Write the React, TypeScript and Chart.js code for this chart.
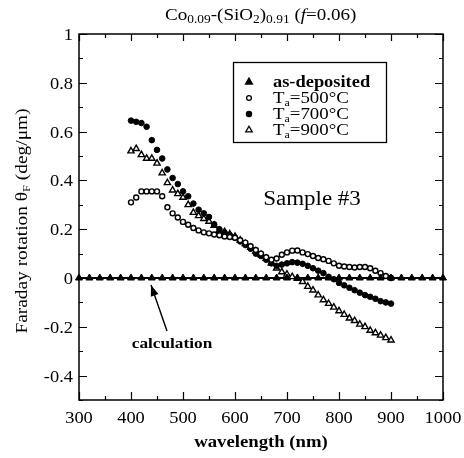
import React, { useEffect, useRef } from "react";
import { Chart, registerables } from "chart.js";
Chart.register(...registerables);

// ---- data ----
const asDepWavelength = [300, 320, 340, 360, 380, 400, 420, 440, 460, 480, 500, 520, 540, 560, 580, 600, 620, 640, 660, 680, 700, 720, 740, 760, 780, 800, 820, 840, 860, 880, 900, 920, 940, 960, 980, 1000];
const asDeposited = [0, 0, 0, 0, 0, 0, 0, 0, 0, 0, 0, 0, 0, 0, 0, 0, 0, 0, 0, 0, 0, 0, 0, 0, 0, 0, 0, 0, 0, 0, 0, 0, 0, 0, 0, 0];

const wavelength = [400, 410, 420, 430, 440, 450, 460, 470, 480, 490, 500, 510, 520, 530, 540, 550, 560, 570, 580, 590, 600, 610, 620, 630, 640, 650, 660, 670, 680, 690, 700, 710, 720, 730, 740, 750, 760, 770, 780, 790, 800, 810, 820, 830, 840, 850, 860, 870, 880, 890, 900];
const ta500 = [0.31, 0.33, 0.355, 0.355, 0.355, 0.355, 0.335, 0.29, 0.265, 0.248, 0.23, 0.218, 0.205, 0.195, 0.187, 0.183, 0.178, 0.175, 0.17, 0.168, 0.165, 0.155, 0.145, 0.13, 0.115, 0.1, 0.085, 0.075, 0.08, 0.095, 0.105, 0.112, 0.113, 0.105, 0.098, 0.09, 0.082, 0.077, 0.07, 0.06, 0.05, 0.047, 0.045, 0.043, 0.045, 0.045, 0.04, 0.03, 0.02, 0.008, 0.0];
const ta700 = [0.645, 0.64, 0.635, 0.62, 0.565, 0.525, 0.49, 0.445, 0.41, 0.385, 0.355, 0.335, 0.305, 0.28, 0.265, 0.25, 0.22, 0.2, 0.185, 0.175, 0.165, 0.15, 0.135, 0.12, 0.1, 0.09, 0.075, 0.06, 0.05, 0.055, 0.06, 0.065, 0.063, 0.058, 0.05, 0.04, 0.03, 0.02, 0.005, -0.005, -0.02, -0.03, -0.04, -0.05, -0.06, -0.07, -0.077, -0.085, -0.095, -0.1, -0.105];
const ta900 = [0.52, 0.53, 0.505, 0.49, 0.49, 0.47, 0.43, 0.39, 0.36, 0.345, 0.33, 0.3, 0.268, 0.255, 0.243, 0.232, 0.215, 0.195, 0.19, 0.18, 0.17, 0.155, 0.14, 0.125, 0.11, 0.095, 0.08, 0.06, 0.04, 0.025, 0.015, 0.005, -0.002, -0.015, -0.035, -0.05, -0.07, -0.09, -0.105, -0.12, -0.135, -0.15, -0.165, -0.175, -0.19, -0.2, -0.215, -0.225, -0.235, -0.245, -0.255];
const calcWavelength = [300, 1000];
const calculation = [0, 0];

const xTicks = [300, 400, 500, 600, 700, 800, 900, 1000];
const xMinor = [350, 450, 550, 650, 750, 850, 950];
const yTicks = [-0.4, -0.2, 0, 0.2, 0.4, 0.6, 0.8, 1];
const yTickLabels = ["-0.4", "-0.2", "0", "0.2", "0.4", "0.6", "0.8", "1"];
const yMinor = [-0.5, -0.3, -0.1, 0.1, 0.3, 0.5, 0.7, 0.9];

const legendLabels = ["as-deposited", "500°C", "700°C", "900°C"];

const SERIF = '"Liberation Serif", "Times New Roman", serif';
const SX = 1.15;

type Run = { t: string; size: number; italic?: boolean; bold?: boolean; dy?: number };

function runsWidth(ctx: CanvasRenderingContext2D, runs: Run[], sx: number) {
  let w = 0;
  for (const r of runs) {
    ctx.font = `${r.italic ? "italic " : ""}${r.bold ? "bold " : ""}${r.size}px ${SERIF}`;
    w += ctx.measureText(r.t).width * sx;
  }
  return w;
}

function drawRuns(ctx: CanvasRenderingContext2D, runs: Run[], x: number, y: number, align: "left" | "center" | "right", sx = SX) {
  const w = runsWidth(ctx, runs, sx);
  let cx = align === "center" ? x - w / 2 : align === "right" ? x - w : x;
  ctx.save();
  ctx.fillStyle = "#000";
  ctx.textAlign = "left";
  ctx.textBaseline = "alphabetic";
  for (const r of runs) {
    ctx.font = `${r.italic ? "italic " : ""}${r.bold ? "bold " : ""}${r.size}px ${SERIF}`;
    const rw = ctx.measureText(r.t).width * sx;
    ctx.save();
    ctx.translate(cx, y + (r.dy || 0));
    ctx.scale(sx, 1);
    ctx.fillText(r.t, 0, 0);
    ctx.restore();
    cx += rw;
  }
  ctx.restore();
  return w;
}

function triangle(ctx: CanvasRenderingContext2D, x: number, y: number, r: number, fill: boolean) {
  ctx.beginPath();
  for (let i = 0; i < 3; i++) {
    const a = -Math.PI / 2 + (i * 2 * Math.PI) / 3;
    const px = x + Math.cos(a) * r;
    const py = y + Math.sin(a) * r;
    if (i === 0) ctx.moveTo(px, py);
    else ctx.lineTo(px, py);
  }
  ctx.closePath();
  ctx.fillStyle = fill ? "#000" : "#fff";
  ctx.fill();
  ctx.lineWidth = 1.3;
  ctx.strokeStyle = "#000";
  ctx.stroke();
}

function circle(ctx: CanvasRenderingContext2D, x: number, y: number, r: number, fill: boolean) {
  ctx.beginPath();
  ctx.arc(x, y, r, 0, Math.PI * 2);
  ctx.fillStyle = fill ? "#000" : "#fff";
  ctx.fill();
  ctx.lineWidth = 1.3;
  ctx.strokeStyle = "#000";
  ctx.stroke();
}

const framePlugin = {
  id: "frame",
  afterDraw(chart: any) {
    const ctx: CanvasRenderingContext2D = chart.ctx;
    const { left, right, top, bottom } = chart.chartArea;
    const xs = chart.scales.x;
    const ys = chart.scales.y;
    ctx.save();
    ctx.strokeStyle = "#000";
    ctx.lineWidth = 1.5;
    ctx.strokeRect(left, top, right - left, bottom - top);

    ctx.lineWidth = 1.2;
    ctx.beginPath();
    for (const v of xTicks) {
      const px = Math.round(xs.getPixelForValue(v)) + 0.5;
      ctx.moveTo(px, bottom); ctx.lineTo(px, bottom - 8);
      ctx.moveTo(px, top); ctx.lineTo(px, top + 7);
    }
    for (const v of xMinor) {
      const px = Math.round(xs.getPixelForValue(v)) + 0.5;
      ctx.moveTo(px, bottom); ctx.lineTo(px, bottom - 4);
      ctx.moveTo(px, top); ctx.lineTo(px, top + 4);
    }
    for (const v of yTicks) {
      const py = Math.round(ys.getPixelForValue(v)) + 0.5;
      ctx.moveTo(left, py); ctx.lineTo(left + 8, py);
      ctx.moveTo(right, py); ctx.lineTo(right - 8, py);
    }
    for (const v of yMinor) {
      const py = Math.round(ys.getPixelForValue(v)) + 0.5;
      ctx.moveTo(left, py); ctx.lineTo(left + 4, py);
      ctx.moveTo(right, py); ctx.lineTo(right - 4, py);
    }
    ctx.stroke();

    // tick labels
    for (const v of xTicks) {
      drawRuns(ctx, [{ t: String(v), size: 16 }], xs.getPixelForValue(v), bottom + 23, "center");
    }
    yTicks.forEach((v, i) => {
      drawRuns(ctx, [{ t: yTickLabels[i], size: 16 }], left - 6, ys.getPixelForValue(v) + 6, "right");
    });

    // x title
    drawRuns(ctx, [{ t: "wavelength (nm)", size: 16, bold: true }], (left + right) / 2, bottom + 47, "center", 1.17);

    // y title (rotated)
    ctx.save();
    ctx.translate(27, (top + bottom) / 2 + 4);
    ctx.rotate(-Math.PI / 2);
    drawRuns(ctx, [
      { t: "Faraday rotation θ", size: 17 },
      { t: "F", size: 11, dy: 3 },
      { t: " (deg/μm)", size: 17 },
    ], 0, 0, "center", 1.14);
    ctx.restore();

    // title
    drawRuns(ctx, [
      { t: "Co", size: 17 },
      { t: "0.09", size: 12, dy: 3 },
      { t: "-(SiO", size: 17 },
      { t: "2", size: 12, dy: 3 },
      { t: ")", size: 17 },
      { t: "0.91", size: 12, dy: 3 },
      { t: " (", size: 17 },
      { t: "f", size: 17, italic: true },
      { t: "=0.06)", size: 17 },
    ], 165, 20, "left", 1.12);

    // Sample #3
    drawRuns(ctx, [{ t: "Sample #3", size: 20 }], 312, 205, "center", 1.15);

    // calculation label + arrow
    drawRuns(ctx, [{ t: "calculation", size: 15, bold: true }], 172, 348, "center", 1.15);
    const x0 = 167, y0 = 331, x1 = 151, y1 = 285;
    ctx.lineWidth = 1.4;
    ctx.beginPath();
    ctx.moveTo(x0, y0);
    ctx.lineTo(x1, y1);
    ctx.stroke();
    const ang = Math.atan2(y1 - y0, x1 - x0);
    const hl = 11, hw = 4;
    const bx = x1 - Math.cos(ang) * hl, by = y1 - Math.sin(ang) * hl;
    ctx.beginPath();
    ctx.moveTo(x1, y1);
    ctx.lineTo(bx + Math.sin(ang) * hw, by - Math.cos(ang) * hw);
    ctx.lineTo(bx - Math.sin(ang) * hw, by + Math.cos(ang) * hw);
    ctx.closePath();
    ctx.fillStyle = "#000";
    ctx.fill();

    // legend
    ctx.lineWidth = 1.3;
    ctx.strokeRect(233.5, 62.5, 153, 80);
    const ly = [82, 98, 114, 130];
    const sxp = 249;
    triangle(ctx, sxp, ly[0], 4, true);
    circle(ctx, sxp, ly[1], 2.4, false);
    circle(ctx, sxp, ly[2], 2.6, true);
    triangle(ctx, sxp, ly[3], 3.8, false);
    drawRuns(ctx, [{ t: legendLabels[0], size: 16, bold: true }], 273, ly[0] + 5, "left", 1.15);
    for (let i = 1; i < 4; i++) {
      drawRuns(ctx, [
        { t: "T", size: 16 },
        { t: "a", size: 10, dy: 3 },
        { t: "=" + legendLabels[i], size: 16 },
      ], 273, ly[i] + 5, "left", 1.18);
    }
    ctx.restore();
  },
};

const bgPlugin = {
  id: "bg",
  beforeDraw(chart: any) {
    const ctx = chart.ctx;
    ctx.save();
    ctx.fillStyle = "#fff";
    ctx.fillRect(0, 0, chart.width, chart.height);
    ctx.restore();
  },
};

export default function App() {
  const ref = useRef<HTMLCanvasElement | null>(null);
  useEffect(() => {
    if (!ref.current) return;
    const pts = (xs: number[], ys: number[]) => xs.map((x, i) => ({ x, y: ys[i] }));
    const chart = new Chart(ref.current, {
      type: "scatter",
      data: {
        datasets: [
          {
            label: "as-deposited",
            data: pts(asDepWavelength, asDeposited),
            pointStyle: "triangle",
            pointRadius: 4,
            backgroundColor: "#000",
            borderColor: "#000",
            borderWidth: 1,
            clip: false as any,
          },
          {
            label: "Ta=500°C",
            data: pts(wavelength, ta500),
            pointStyle: "circle",
            pointRadius: 2.5,
            backgroundColor: "#fff",
            borderColor: "#000",
            borderWidth: 1.4,
          },
          {
            label: "Ta=700°C",
            data: pts(wavelength, ta700),
            pointStyle: "circle",
            pointRadius: 2.8,
            backgroundColor: "#000",
            borderColor: "#000",
            borderWidth: 1,
          },
          {
            label: "Ta=900°C",
            data: pts(wavelength, ta900),
            pointStyle: "triangle",
            pointRadius: 3.6,
            backgroundColor: "#fff",
            borderColor: "#000",
            borderWidth: 1.4,
          },
          {
            label: "calculation",
            data: pts(calcWavelength, calculation),
            showLine: true,
            pointRadius: 0,
            borderColor: "#000",
            borderWidth: 2,
          },
        ],
      },
      options: {
        responsive: false,
        animation: false,
        devicePixelRatio: 1,
        layout: { padding: { left: 79, top: 34, right: 21, bottom: 58 } },
        plugins: { legend: { display: false }, tooltip: { enabled: false }, title: { display: false } },
        scales: {
          x: { type: "linear", min: 300, max: 1000, display: false },
          y: { type: "linear", min: -0.5, max: 1, display: false },
        },
      },
      plugins: [bgPlugin, framePlugin],
    });
    return () => chart.destroy();
  }, []);
  return (
    <div style={{ position: "absolute", left: 0, top: 0, width: 464, height: 458, background: "#fff" }}>
      <canvas ref={ref} width={464} height={458} style={{ display: "block" }} />
    </div>
  );
}
